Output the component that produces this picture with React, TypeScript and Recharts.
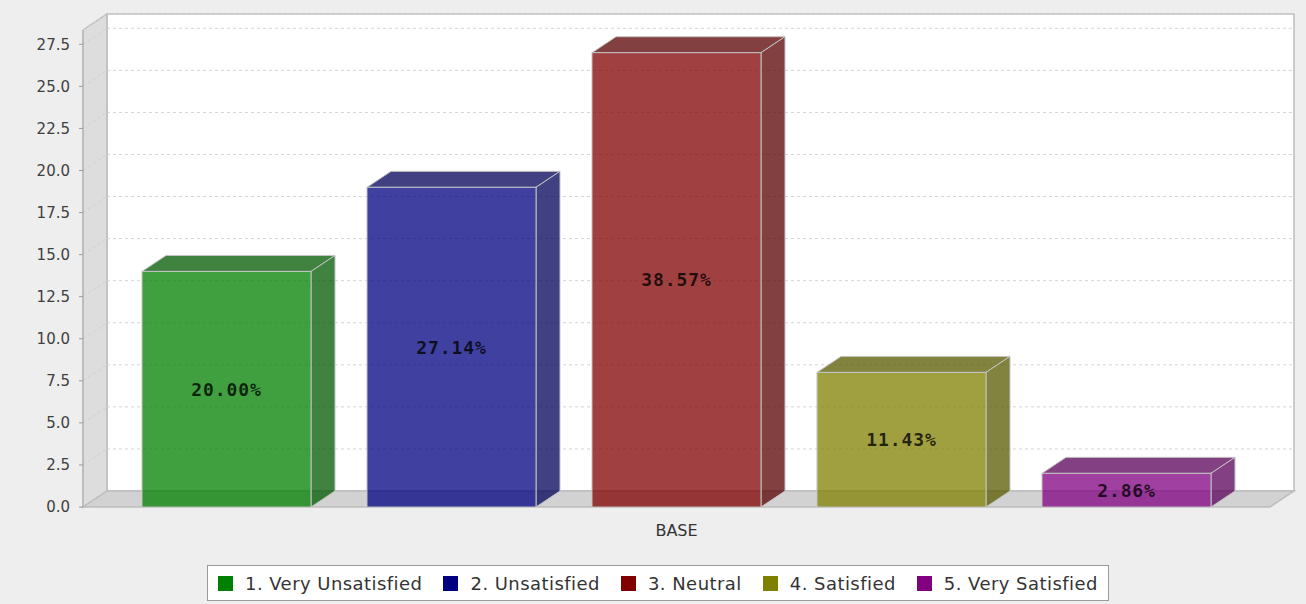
import React from 'react';
import {
  BarChart,
  Bar,
  XAxis,
  YAxis,
  CartesianGrid,
  Legend,
  LabelList,
} from 'recharts';

const categories = ['BASE'];
const seriesNames = [
  '1. Very Unsatisfied',
  '2. Unsatisfied',
  '3. Neutral',
  '4. Satisfied',
  '5. Very Satisfied',
];
const seriesValues = [14, 19, 27, 8, 2];
const seriesColors = ['#008000', '#000080', '#800000', '#808000', '#800080'];
const yTicks = [0, 2.5, 5, 7.5, 10, 12.5, 15, 17.5, 20, 22.5, 25, 27.5];

const total = seriesValues.reduce((acc, v) => acc + v, 0);

const data = categories.map((name) => {
  const row: Record<string, string | number> = { name };
  seriesNames.forEach((_, i) => {
    row[`s${i}`] = seriesValues[i];
  });
  return row;
});

// chart frame
const W = 1306;
const H = 604;
const PLOT_L = 83;
const PLOT_R = 1270;
const PLOT_T = 30;
const PLOT_B = 507;
const X_AXIS_H = 40;
// 3D depth offset
const DX = 24;
const DY = 16;

const FONT = '"DejaVu Sans", "Noto Sans", sans-serif';

// java.awt.Color.darker()
const darker = (hex: string) => {
  const n = parseInt(hex.slice(1), 16);
  const r = Math.floor(((n >> 16) & 255) * 0.7);
  const g = Math.floor(((n >> 8) & 255) * 0.7);
  const b = Math.floor((n & 255) * 0.7);
  return `rgb(${r},${g},${b})`;
};

const Bar3D = (props: any) => {
  const { x, y, width, height, fill } = props;
  if (width == null || height == null) return null;
  const dark = darker(fill);
  const outline = '#c4c4c4';
  return (
    <g>
      <polygon
        points={`${x},${y} ${x + DX},${y - DY} ${x + width + DX},${y - DY} ${x + width},${y}`}
        fill={dark}
        fillOpacity={0.75}
        stroke={outline}
        strokeWidth={1}
      />
      <polygon
        points={`${x + width},${y} ${x + width + DX},${y - DY} ${x + width + DX},${y + height - DY} ${x + width},${y + height}`}
        fill={dark}
        fillOpacity={0.75}
        stroke={outline}
        strokeWidth={1}
      />
      <rect
        x={x}
        y={y}
        width={width}
        height={height}
        fill={fill}
        fillOpacity={0.75}
        stroke={outline}
        strokeWidth={1}
      />
    </g>
  );
};

const renderPercent = (props: any) => {
  const { x, y, width, height, value } = props;
  const pct = ((Number(value) / total) * 100).toFixed(2) + '%';
  return (
    <text
      x={x + width / 2}
      y={y + height / 2}
      textAnchor="middle"
      dominantBaseline="central"
      fill="#000"
      fillOpacity={0.78}
      fontFamily='"DejaVu Sans Mono", monospace'
      fontWeight="bold"
      fontSize={18}
      letterSpacing={0.9}
    >
      {pct}
    </text>
  );
};

// gridlines live on the back wall, with a short diagonal across the left wall
const renderGridLine = (props: any) => {
  const { x1, x2, y1, index } = props;
  if (y1 >= PLOT_B - 0.5) return <g key={`grid-${index}`} />;
  return (
    <g key={`grid-${index}`}>
      <line
        x1={x1 + DX}
        y1={y1 - DY}
        x2={x2 + DX}
        y2={y1 - DY}
        stroke="#d4d4d4"
        strokeDasharray="3 3"
      />
      <line
        x1={x1}
        y1={y1}
        x2={x1 + DX}
        y2={y1 - DY}
        stroke="#cfcfcf"
        strokeDasharray="3 3"
      />
    </g>
  );
};

const renderLegend = (props: any) => {
  const { payload } = props;
  return (
    <div
      style={{
        display: 'inline-flex',
        alignItems: 'center',
        height: 36,
        boxSizing: 'border-box',
        border: '1px solid #9a9a9a',
        background: '#ffffff',
        padding: '0 10px',
        fontFamily: FONT,
        fontSize: 18,
        letterSpacing: 0.45,
        color: '#333333',
        whiteSpace: 'nowrap',
      }}
    >
      {(payload || []).map((entry: any, i: number) => (
        <div
          key={entry.value}
          style={{
            display: 'flex',
            alignItems: 'center',
            marginRight: i < payload.length - 1 ? 21 : 0,
          }}
        >
          <span
            style={{
              display: 'inline-block',
              width: 15,
              height: 15,
              background: entry.color,
              marginRight: 12,
            }}
          />
          <span>{entry.value}</span>
        </div>
      ))}
    </div>
  );
};

const Walls = () => (
  <svg width={W} height={H} style={{ position: 'absolute', left: 0, top: 0 }}>
    <rect width={W} height={H} fill="#eeeeee" />
    {/* back wall */}
    <rect
      x={PLOT_L + DX}
      y={PLOT_T - DY}
      width={PLOT_R - PLOT_L}
      height={PLOT_B - PLOT_T}
      fill="#ffffff"
      stroke="#bdbdbd"
      strokeWidth={1.5}
    />
    {/* left wall */}
    <polygon
      points={`${PLOT_L},${PLOT_T} ${PLOT_L + DX},${PLOT_T - DY} ${PLOT_L + DX},${PLOT_B - DY} ${PLOT_L},${PLOT_B}`}
      fill="#dddddd"
      stroke="#bdbdbd"
      strokeWidth={1.5}
    />
    {/* floor */}
    <polygon
      points={`${PLOT_L},${PLOT_B} ${PLOT_L + DX},${PLOT_B - DY} ${PLOT_R + DX},${PLOT_B - DY} ${PLOT_R},${PLOT_B}`}
      fill="#d2d2d2"
      stroke="#bdbdbd"
      strokeWidth={1.5}
    />
  </svg>
);

const App = () => {
  return (
    <div
      style={{
        position: 'absolute',
        left: 0,
        top: 0,
        width: W,
        height: H,
        overflow: 'hidden',
        background: '#eeeeee',
      }}
    >
      <Walls />
      <div style={{ position: 'absolute', left: 0, top: 0 }}>
        <BarChart
          width={W}
          height={H}
          data={data}
          margin={{ top: PLOT_T, right: W - PLOT_R, left: 0, bottom: H - PLOT_B - X_AXIS_H }}
          barSize={169}
          barGap={56}
        >
          <CartesianGrid vertical={false} horizontal={renderGridLine} />
          <XAxis
            dataKey="name"
            height={X_AXIS_H}
            axisLine={false}
            tickLine={false}
            tickSize={0}
            tickMargin={18}
            tick={{ fontSize: 16, fill: '#333333', fontFamily: FONT }}
          />
          <YAxis
            type="number"
            domain={[0, 28.35]}
            ticks={yTicks}
            width={PLOT_L}
            allowDataOverflow
            tickSize={4}
            tickMargin={9}
            axisLine={{ stroke: '#b4b4b4' }}
            tickLine={{ stroke: '#9a9a9a' }}
            tickFormatter={(v: number) => v.toFixed(1)}
            tick={{ fontSize: 15, fill: '#404040', fontFamily: FONT }}
          />
          <Legend
            layout="vertical"
            align="center"
            verticalAlign="middle"
            content={renderLegend}
            wrapperStyle={{ left: 207, top: 565, width: 'auto', height: 'auto' }}
          />
          {seriesNames.map((name, i) => (
            <Bar
              key={name}
              dataKey={`s${i}`}
              name={name}
              fill={seriesColors[i]}
              shape={Bar3D}
              isAnimationActive={false}
            >
              <LabelList dataKey={`s${i}`} content={renderPercent} />
            </Bar>
          ))}
        </BarChart>
      </div>
    </div>
  );
};

export default App;
